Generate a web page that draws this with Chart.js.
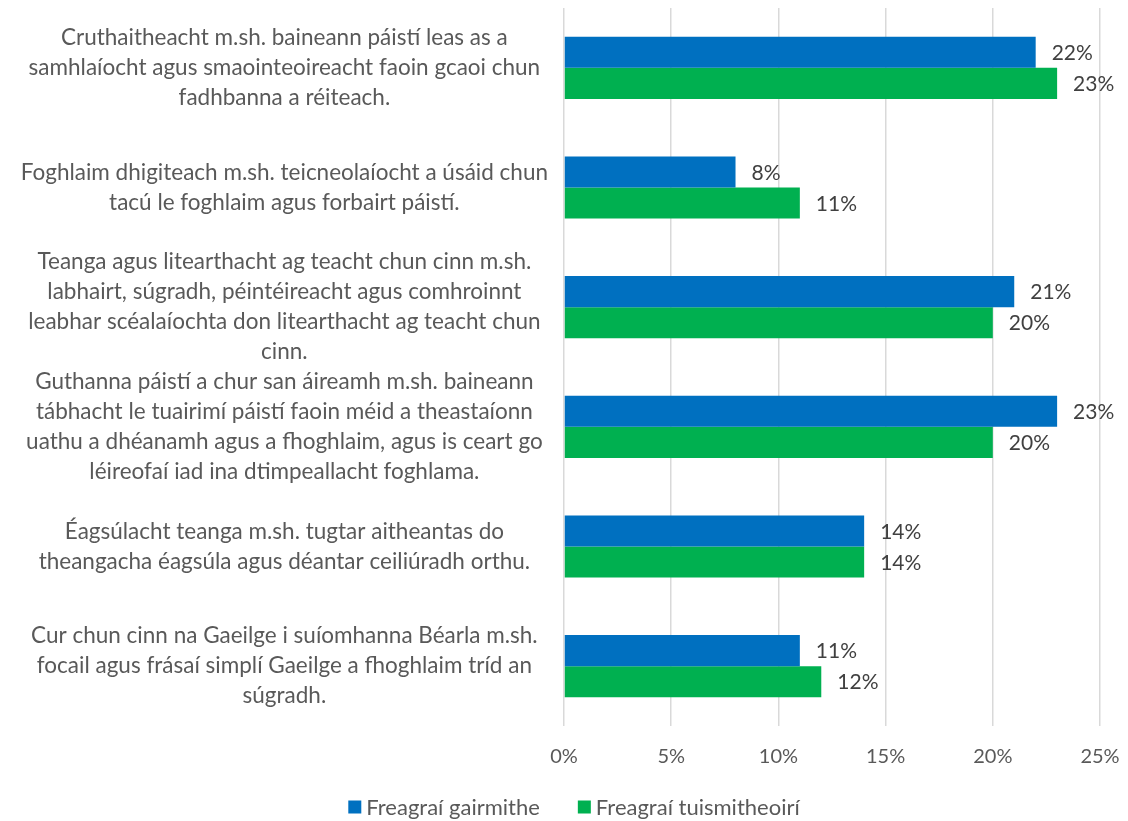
<!DOCTYPE html>
<html>
<head>
<meta charset="utf-8">
<script src="https://cdn.jsdelivr.net/npm/chart.js@4"></script>
<style>
html,body{margin:0;padding:0;background:#fff;}
#wrap{width:1128px;height:821px;position:relative;}
</style>
</head>
<body>
<div id="wrap"><canvas id="c"></canvas></div>
<script>
const categories = [
  ["Cruthaitheacht m.sh. baineann páistí leas as a", "samhlaíocht agus smaointeoireacht faoin gcaoi chun", "fadhbanna a réiteach."],
  ["Foghlaim dhigiteach m.sh. teicneolaíocht a úsáid chun", "tacú le foghlaim agus forbairt páistí."],
  ["Teanga agus litearthacht ag teacht chun cinn m.sh.", "labhairt, súgradh, péintéireacht agus comhroinnt", "leabhar scéalaíochta don litearthacht ag teacht chun", "cinn."],
  ["Guthanna páistí a chur san áireamh m.sh. baineann", "tábhacht le tuairimí páistí faoin méid a theastaíonn", "uathu a dhéanamh agus a fhoghlaim, agus is ceart go", "léireofaí iad ina dtimpeallacht foghlama."],
  ["Éagsúlacht teanga m.sh. tugtar aitheantas do", "theangacha éagsúla agus déantar ceiliúradh orthu."],
  ["Cur chun cinn na Gaeilge i suíomhanna Béarla m.sh.", "focail agus frásaí simplí Gaeilge a fhoghlaim tríd an", "súgradh."]
];
const seriesNames = ["Freagraí gairmithe", "Freagraí tuismitheoirí"];
const professionals = [22, 8, 21, 23, 14, 11];
const parents = [23, 11, 20, 20, 14, 12];
const xTicks = [0, 5, 10, 15, 20, 25];

const FONT = "Lato";

const dataLabels = {
  id: 'dataLabels',
  afterDatasetsDraw(chart) {
    const ctx = chart.ctx;
    ctx.save();
    ctx.font = "21px " + FONT;
    ctx.fillStyle = "#404040";
    ctx.textAlign = "left";
    ctx.textBaseline = "middle";
    chart.data.datasets.forEach((ds, i) => {
      chart.getDatasetMeta(i).data.forEach((bar, j) => {
        ctx.fillText(ds.data[j] + "%", bar.x + 16, bar.y + 1);
      });
    });
    ctx.restore();
  }
};

const bottomLegend = {
  id: 'bottomLegend',
  afterDraw(chart) {
    const ctx = chart.ctx;
    ctx.save();
    ctx.font = "22px " + FONT;
    ctx.textBaseline = "middle";
    ctx.textAlign = "left";
    const box = 13, gapBox = 5, gapItem = 38, y = 807;
    const items = chart.data.datasets.map(ds => ({ text: ds.label, color: ds.backgroundColor, w: ctx.measureText(ds.label).width }));
    let total = items.reduce((s, it) => s + box + gapBox + it.w, 0) + gapItem * (items.length - 1);
    let x = 574 - total / 2;
    items.forEach(it => {
      ctx.fillStyle = it.color;
      ctx.fillRect(x, y - box / 2, box, box);
      ctx.fillStyle = "#595959";
      ctx.fillText(it.text, x + box + gapBox, y + 1);
      x += box + gapBox + it.w + gapItem;
    });
    ctx.restore();
  }
};

new Chart(document.getElementById('c'), {
  type: 'bar',
  data: {
    labels: categories,
    datasets: [
      { label: seriesNames[0], data: professionals, backgroundColor: "#0070C0", borderWidth: 0, categoryPercentage: 0.52, barPercentage: 1.0 },
      { label: seriesNames[1], data: parents, backgroundColor: "#00B050", borderWidth: 0, categoryPercentage: 0.52, barPercentage: 1.0 }
    ]
  },
  options: {
    indexAxis: 'y',
    responsive: true,
    maintainAspectRatio: false,
    animation: false,
    layout: { padding: { top: 8, right: 28, left: 0, bottom: 33 } },
    plugins: {
      legend: { display: false },
      tooltip: { enabled: false }
    },
    scales: {
      x: {
        min: 0, max: 25,
        afterBuildTicks(axis) { axis.ticks = xTicks.map(v => ({ value: v })); },
        afterFit(axis) { axis.paddingLeft = 0; axis.paddingRight = 0; },
        ticks: {
          callback: v => v + "%",
          font: { family: FONT, size: 20 },
          color: "#595959",
          padding: 19
        },
        grid: { color: "#D9D9D9", lineWidth: 1.5, drawTicks: false },
        border: { display: false }
      },
      y: {
        afterFit(axis) { axis.width = 564; axis.paddingTop = 0; axis.paddingBottom = 0; },
        ticks: {
          autoSkip: false,
          crossAlign: 'center',
          font: { family: FONT, size: 22.5, lineHeight: 1.333 },
          color: "#595959",
          padding: 16
        },
        grid: { display: false, drawTicks: false },
        border: { display: false }
      }
    }
  },
  plugins: [dataLabels, bottomLegend]
});
</script>
</body>
</html>
